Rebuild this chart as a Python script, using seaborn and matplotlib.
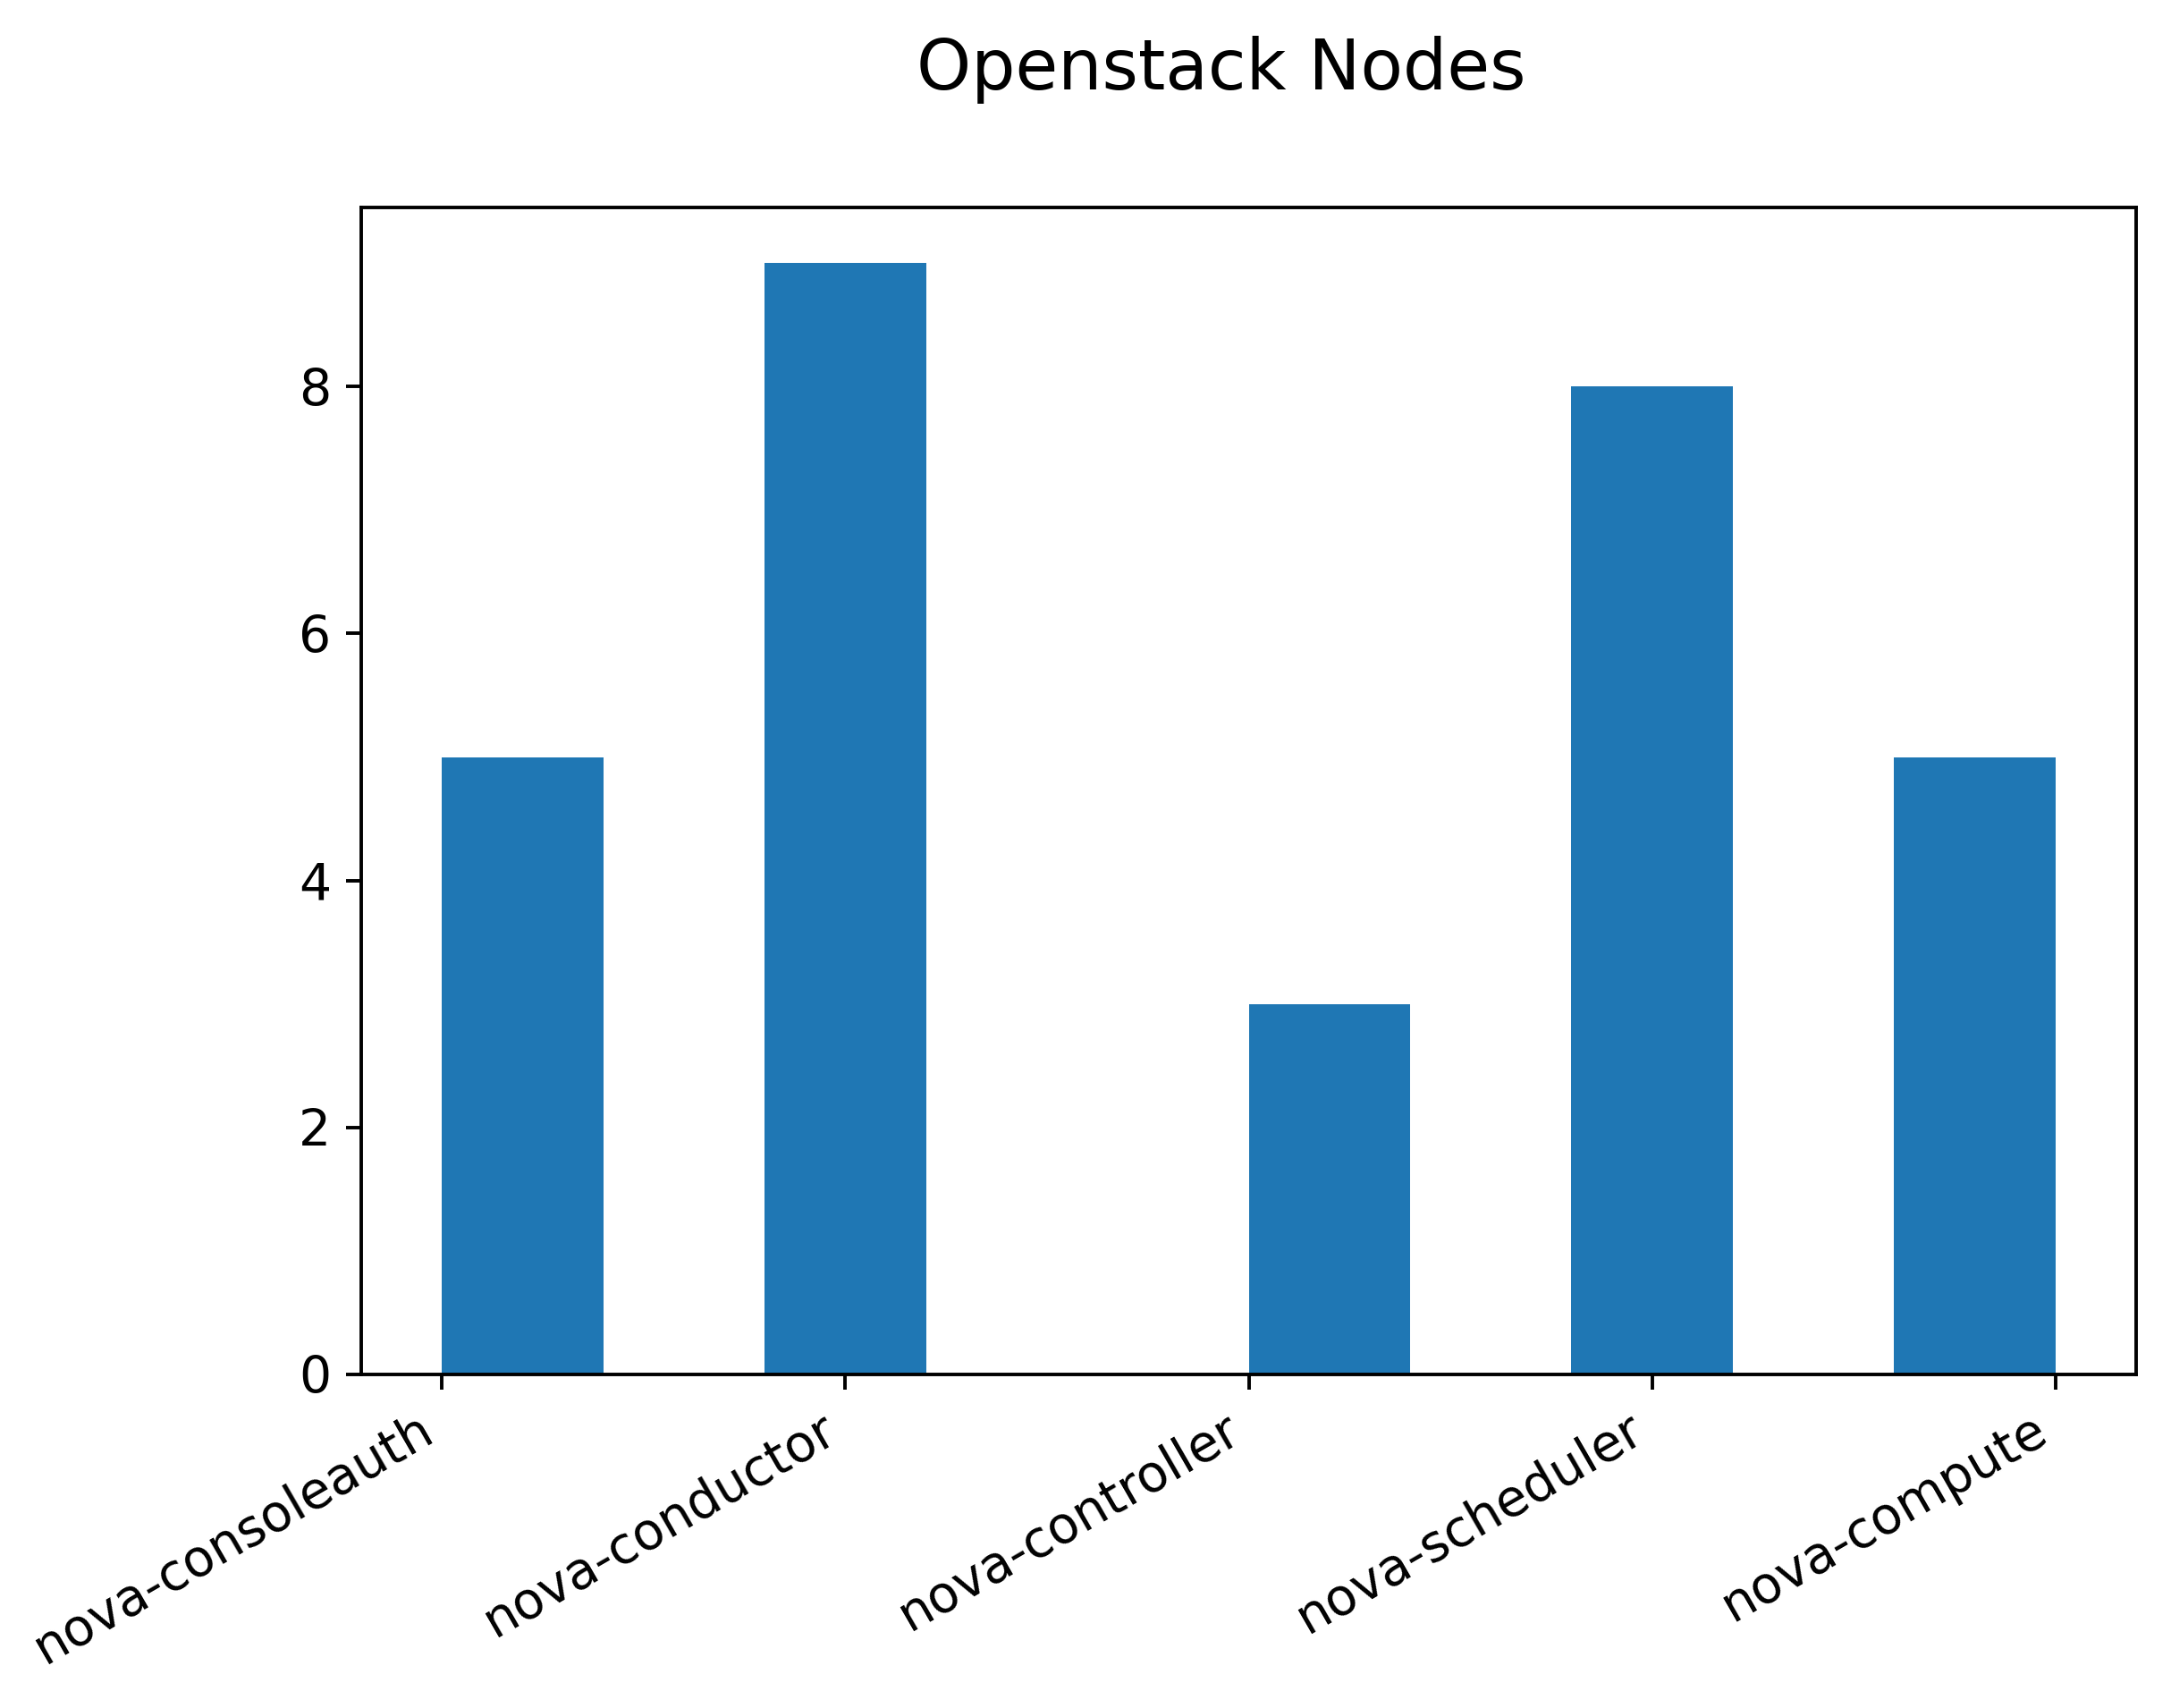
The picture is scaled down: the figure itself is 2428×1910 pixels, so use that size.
import numpy as np
import pandas as pd
import seaborn as sns
import matplotlib
matplotlib.use("Agg")
import matplotlib.pyplot as plt

# node counts per nova service
services = ["nova-consoleauth", "nova-conductor", "nova-controller",
            "nova-scheduler", "nova-compute"]
counts = [5, 9, 3, 8, 5]

df = pd.DataFrame({"code": np.arange(len(services)), "count": counts})

plt.rcParams['font.family'] = ['DejaVu Sans']

fig = plt.figure(figsize=(2428 / 350, 1910 / 350), dpi=350)
ax = fig.add_axes([404 / 2428, 1 - 1537 / 1910, (2389 - 404) / 2428, (1537 - 232) / 1910])

sns.histplot(data=df, x="code", weights="count", bins=10, binrange=(0, 4),
             color="#1f77b4", alpha=1.0, edgecolor="none", linewidth=0, ax=ax)

ax.set_xlim(-0.2, 4.2)
ax.set_ylim(0, 9.45)
ax.set_xticks(range(len(services)))
ax.set_xticklabels(services, rotation=30, ha="right")
ax.set_yticks([0, 2, 4, 6, 8])
ax.set_xlabel("")
ax.set_ylabel("")
ax.tick_params(labelsize=11.7)

fig.text(1366 / 2428, 1 - 100 / 1910, "Openstack Nodes", fontsize=16,
         ha="center", va="baseline")

fig.savefig("out.png", dpi=350)
